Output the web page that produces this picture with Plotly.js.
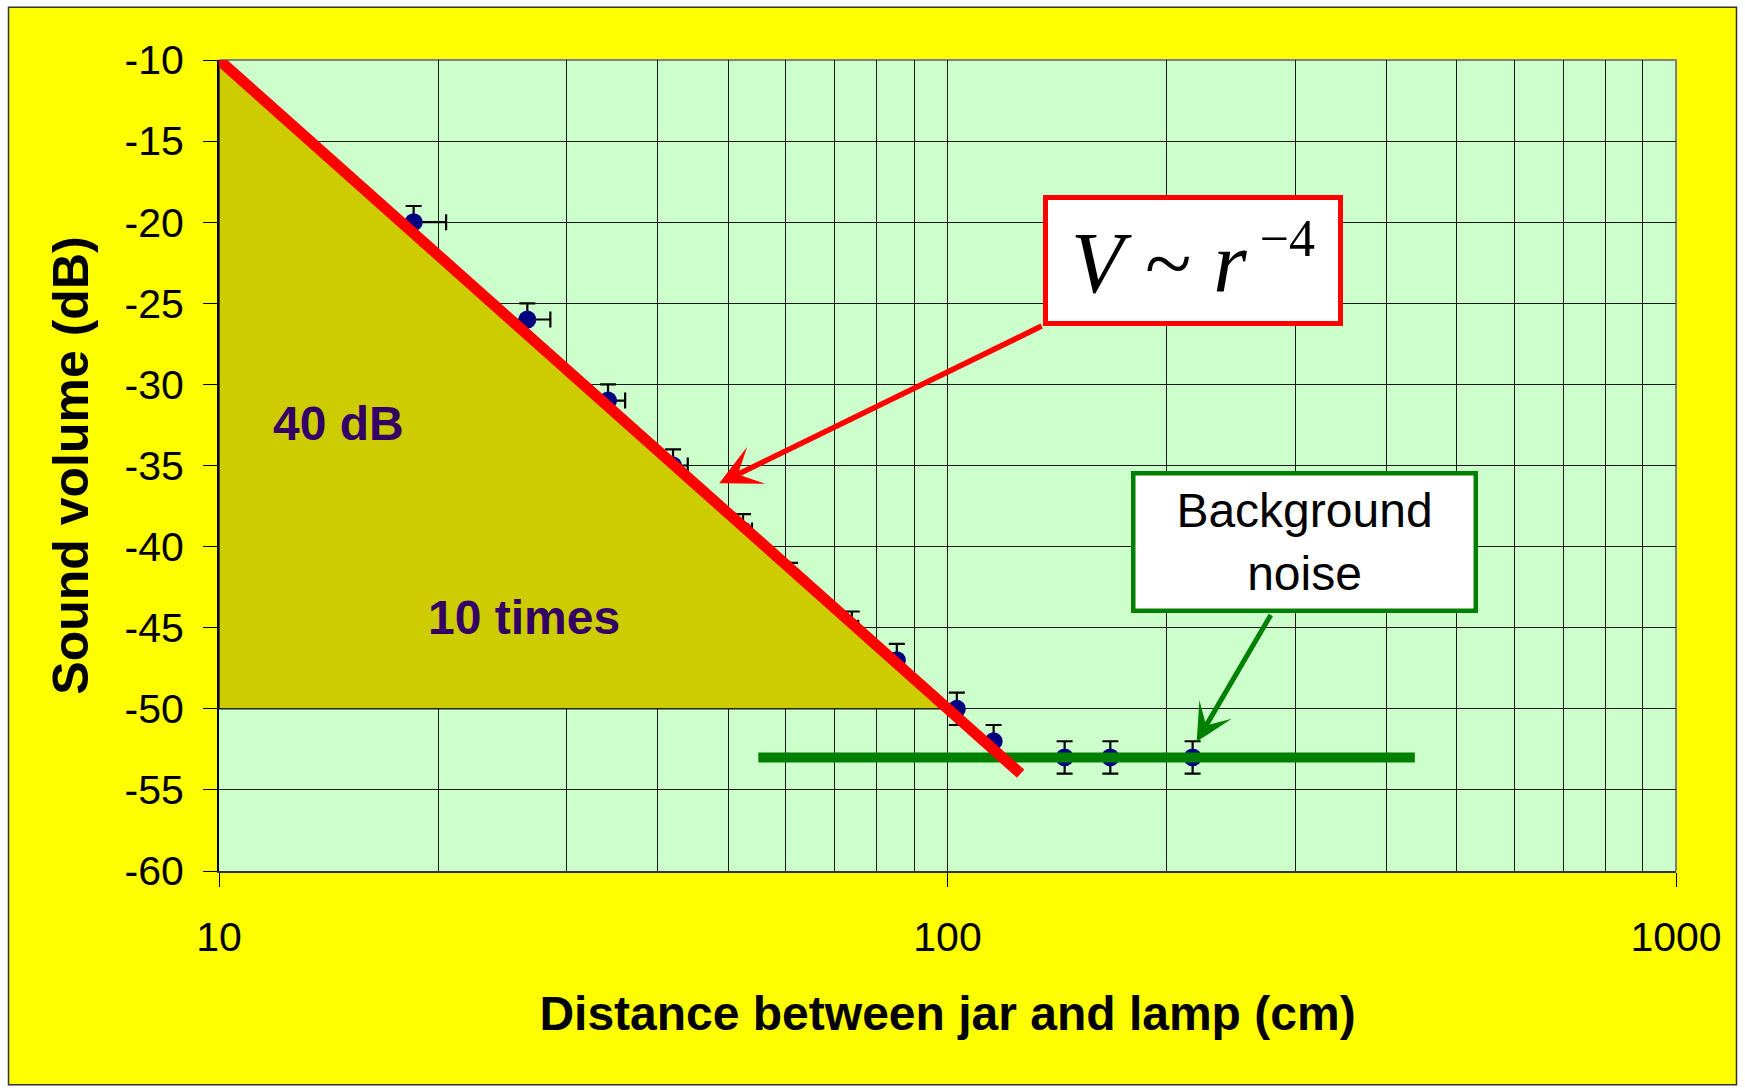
<!DOCTYPE html>
<html>
<head>
<meta charset="utf-8">
<script src="https://cdn.plot.ly/plotly-3.0.1.min.js"></script>
<style>
  html, body { margin: 0; padding: 0; background: #ffffff; }
  #chart { width: 1745px; height: 1088px; }
</style>
</head>
<body>
<div id="chart"></div>
<script>
// Measured sound level versus distance between the jar and the lamp
const distanceCm    = [18.5, 26.5, 34.2, 42.0, 52.4, 60.8, 73.9, 85.2, 103, 115.7, 144.8, 167.3, 217];
const volumeDb      = [-20, -26, -31, -35, -39, -42, -45, -47, -50, -52, -53, -53, -53];
const volumeErrDb   = [1, 1, 1, 1, 1, 1, 1, 1, 1, 1, 1, 1, 1];
const distanceErrCm = [2, 2, 1.9, 2, 1.5, 1.5, 1.5, null, null, null, null, null, null];

// V ~ r^-4 guide line (40 dB per decade)
const fitDistanceCm = [10, 126];
const fitVolumeDb   = [-10, -54];

// Slope triangle: 40 dB drop over one decade of distance
const triangleDistanceCm = [10, 10, 100, 10];
const triangleVolumeDb   = [-10, -50, -50, -10];

// Background noise level
const noiseDistanceCm = [55, 438];
const noiseVolumeDb   = [-53, -53];

// Axis ticks
const xTickVals = [10, 100, 1000];
const xTickText = ['10', '100', '1000'];
const yTickVals = [-60, -55, -50, -45, -40, -35, -30, -25, -20, -15, -10];
const yTickText = ['-60', '-55', '-50', '-45', '-40', '-35', '-30', '-25', '-20', '-15', '-10'];

// Annotation anchors (distance in cm, volume in dB)
const label40dB   = {x: 14.6, y: -32.4};
const label10x    = {x: 26.2, y: -44.4};
const lawBox      = {x: 217.5, y: -22.38};
const lawArrow    = {fromX: 135.3, fromY: -26.36, toX: 48.6, toY: -36.1};
const noiseBox    = {x: 309, y: -39.72};
const noiseArrow  = {fromX: 278.6, fromY: -44.12, toX: 219.8, toY: -52.03};

// ---- page geometry (pixels) ----
const plotLeft = 219, plotRight = 1676, plotTop = 59.5, plotBottom = 871;
const pw = plotRight - plotLeft, ph = plotBottom - plotTop;
const pX = p => (p - plotLeft) / pw;
const pY = p => (plotBottom - p) / ph;

// minor grid at 2..9 of each decade
const minorGrid = [];
[10, 100].forEach(d => { for (let k = 2; k <= 9; k++) minorGrid.push(d * k); });

const sans = '"Liberation Sans", Arial, sans-serif';
const serif = '"Liberation Serif", "Times New Roman", serif';
const lg = Math.log10;
const gridColor = '#1a1a1a';

const traces = [
  {
    x: distanceCm, y: volumeDb, type: 'scatter', mode: 'markers',
    marker: {color: '#000080', size: 18},
    error_y: {type: 'data', array: volumeErrDb, visible: true, color: '#000000', thickness: 2.2, width: 8},
    error_x: {type: 'data', array: distanceErrCm.map(v => v === null ? NaN : v), visible: true,
              color: '#000000', thickness: 2.2, width: 8},
    hoverinfo: 'skip'
  },
  {
    x: triangleDistanceCm, y: triangleVolumeDb, type: 'scatter', mode: 'lines',
    fill: 'toself', fillcolor: '#CCCC00', line: {color: '#222200', width: 1.5},
    hoverinfo: 'skip'
  },
  {
    x: noiseDistanceCm, y: noiseVolumeDb, type: 'scatter', mode: 'lines',
    line: {color: '#008000', width: 10}, hoverinfo: 'skip'
  },
  {
    x: fitDistanceCm, y: fitVolumeDb, type: 'scatter', mode: 'lines',
    line: {color: '#FF0000', width: 11}, hoverinfo: 'skip'
  }
];

const layout = {
  width: 1745, height: 1088,
  margin: {l: plotLeft, r: 1745 - plotRight, t: plotTop, b: 1088 - plotBottom, pad: 0},
  paper_bgcolor: '#FFFF00',
  plot_bgcolor: '#CCFFCC',
  showlegend: false,
  font: {family: sans, color: '#000000'},
  xaxis: {
    type: 'log', range: [1, 3], autorange: false,
    tickmode: 'array', tickvals: xTickVals, ticktext: xTickText,
    ticks: 'outside', ticklen: 14, tickwidth: 1, tickcolor: '#000000',
    ticklabelstandoff: 15,
    tickfont: {family: sans, size: 41, color: '#000000'},
    showgrid: true, gridcolor: gridColor, gridwidth: 1,
    minor: {tickmode: 'array', tickvals: minorGrid, showgrid: true, gridcolor: gridColor, gridwidth: 1, ticks: ''},
    showline: true, linecolor: '#333333', linewidth: 2,
    zeroline: false, automargin: false,
    title: {text: 'Distance between jar and lamp (cm)', standoff: 37,
            font: {family: sans, size: 48, weight: 'bold', color: '#000000'}}
  },
  yaxis: {
    range: [-60, -10], autorange: false,
    tickmode: 'array', tickvals: yTickVals, ticktext: yTickText,
    ticks: 'outside', ticklen: 14, tickwidth: 1, tickcolor: '#000000',
    ticklabelstandoff: 11,
    tickfont: {family: sans, size: 41, color: '#000000'},
    showgrid: true, gridcolor: gridColor, gridwidth: 1,
    showline: true, linecolor: '#000000', linewidth: 2,
    zeroline: false, automargin: false,
    title: {text: 'Sound volume (dB)', standoff: 20,
            font: {family: sans, size: 50, weight: 'bold', color: '#000000'}}
  },
  shapes: [
    // white page margin around the yellow card
    {
      type: 'path', xref: 'paper', yref: 'paper', layer: 'above', fillrule: 'evenodd',
      path: `M${pX(-20)},${pY(-20)} L${pX(1765)},${pY(-20)} L${pX(1765)},${pY(1108)} L${pX(-20)},${pY(1108)} Z ` +
            `M${pX(8.5)},${pY(6.7)} L${pX(1736.5)},${pY(6.7)} L${pX(1736.5)},${pY(1085)} L${pX(8.5)},${pY(1085)} Z`,
      fillcolor: '#FFFFFF', line: {width: 0}
    },
    // card border
    {
      type: 'rect', xref: 'paper', yref: 'paper', layer: 'above',
      x0: pX(8.5), x1: pX(1736.5), y0: pY(1085), y1: pY(6.7),
      fillcolor: 'rgba(0,0,0,0)', line: {color: '#333333', width: 1.5}
    },
    // grey frame on the top and right of the plot area
    {
      type: 'path', xref: 'paper', yref: 'paper', layer: 'below',
      path: 'M0,1 L1,1 L1,0', line: {color: '#808080', width: 2}
    }
  ],
  annotations: [
    {xref: 'x', yref: 'y', x: lg(label40dB.x), y: label40dB.y, text: '40 dB', showarrow: false,
     font: {family: sans, size: 48, weight: 'bold', color: '#330066'}},
    {xref: 'x', yref: 'y', x: lg(label10x.x), y: label10x.y, text: '10 times', showarrow: false,
     font: {family: sans, size: 48, weight: 'bold', color: '#330066'}},
    // arrow from the law box to the guide line
    {xref: 'x', yref: 'y', axref: 'x', ayref: 'y',
     x: lg(lawArrow.toX), y: lawArrow.toY, ax: lg(lawArrow.fromX), ay: lawArrow.fromY,
     text: '', showarrow: true, arrowhead: 3, arrowsize: 1.25, arrowwidth: 5.5, arrowcolor: '#FF0000'},
    // arrow from the noise box to the noise level
    {xref: 'x', yref: 'y', axref: 'x', ayref: 'y',
     x: lg(noiseArrow.toX), y: noiseArrow.toY, ax: lg(noiseArrow.fromX), ay: noiseArrow.fromY,
     text: '', showarrow: true, arrowhead: 3, arrowsize: 1.25, arrowwidth: 5, arrowcolor: '#008000'},
    {xref: 'x', yref: 'y', x: lg(lawBox.x), y: lawBox.y, showarrow: false,
     text: '<i>V</i> ~ <i>r</i><sup><span style="font-size:52px">\u00A0\u22124</span></sup>',
     width: 290, height: 121, borderwidth: 5, borderpad: 0,
     bordercolor: '#FF0000', bgcolor: '#FFFFFF', align: 'center', valign: 'middle',
     font: {family: serif, size: 86, color: '#000000'}},
    {xref: 'x', yref: 'y', x: lg(noiseBox.x), y: noiseBox.y, showarrow: false,
     text: 'Background<br>noise',
     width: 338, height: 133, borderwidth: 4.5, borderpad: 0,
     bordercolor: '#008000', bgcolor: '#FFFFFF', align: 'center', valign: 'middle',
     font: {family: sans, size: 48, color: '#000000'}}
  ]
};

Plotly.newPlot('chart', traces, layout, {displayModeBar: false, staticPlot: true});
</script>
</body>
</html>
